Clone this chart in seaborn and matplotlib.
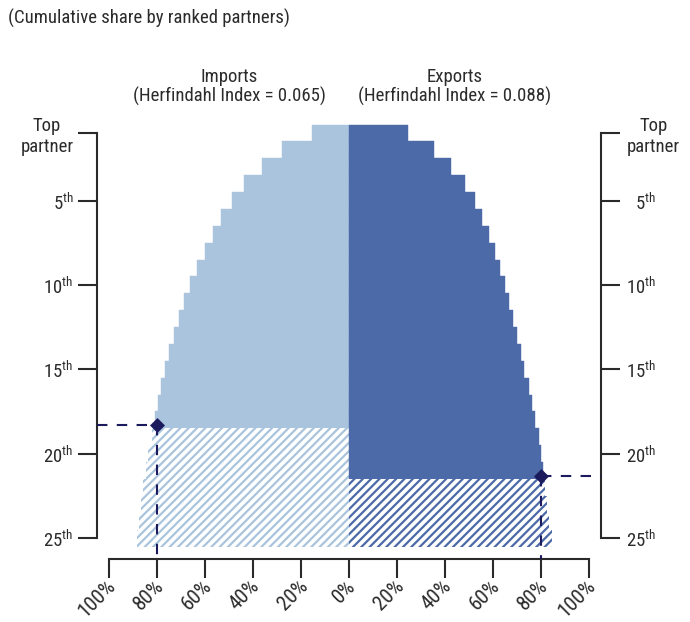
import numpy as np
import pandas as pd
import matplotlib
matplotlib.use("Agg")
import matplotlib.pyplot as plt
import matplotlib.transforms as mtransforms
import seaborn as sns

# ---- data ----
ranks = list(range(1, 26))
imports_share = [15.5, 27.9, 36.3, 43.8, 48.8, 53.3, 56.8, 60.1, 63.2, 66.3,
                 68.9, 70.8, 72.9, 74.9, 76.8, 78.5, 79.7, 80.7, 82.2, 83.6,
                 84.7, 85.7, 86.8, 87.5, 88.2]
exports_share = [24.6, 35.4, 42.5, 48.3, 52.6, 55.4, 58.3, 60.8, 62.9, 65.0,
                 66.8, 68.5, 69.9, 71.7, 73.1, 74.9, 76.4, 77.6, 79.0, 80.0,
                 80.7, 81.7, 82.6, 83.5, 84.5]
imports_last_solid = 18
exports_last_solid = 21
imports_marker = (80, 18.3)
exports_marker = (80, 21.3)
xticks = [-100, -80, -60, -40, -20, 0, 20, 40, 60, 80, 100]
xticklabels = ["100%", "80%", "60%", "40%", "20%", "0%", "20%", "40%", "60%", "80%", "100%"]
yticks = [1, 5, 10, 15, 20, 25]
yticklabels = ["Top\npartner"] + [f"{v}$^{{\\mathregular{{th}}}}$" for v in yticks[1:]]
title_text = "(Cumulative share by ranked partners)"
imports_title = "Imports\n(Herfindahl Index = 0.065)"
exports_title = "Exports\n(Herfindahl Index = 0.088)"

LIGHT = "#a9c4dc"
DARK = "#4c69a8"
NAVY = "#1b1a5c"
AXC = "#2a2a2a"
TXT = "#2b2b2b"
FS = 13.5

sns.set_theme(style="white")
plt.rcParams["font.family"] = ["Roboto Condensed", "DejaVu Sans"]
plt.rcParams["hatch.linewidth"] = 1.6
plt.rcParams["mathtext.fontset"] = "custom"
plt.rcParams["mathtext.rm"] = "Roboto Condensed"

df = pd.DataFrame({"rank": ranks, "imports": imports_share, "exports": exports_share})
df["neg_imports"] = -df["imports"]

fig = plt.figure(figsize=(6.9, 6.22), dpi=100)
ax = fig.add_axes([97 / 690, (622 - 559) / 622, 504 / 690, (559 - 120) / 622])

def bars(sub, col, color, hatched):
    n0 = len(ax.patches)
    sns.barplot(data=sub, x=col, y="rank", orient="h", native_scale=True,
                width=1, color="white" if hatched else color, saturation=1,
                linewidth=0, ax=ax)
    for p in ax.patches[n0:]:
        if hatched:
            p.set_facecolor("white")
            p.set_hatch("////")
            p.set_edgecolor(color)
            p.set_linewidth(0)
        else:
            p.set_edgecolor(color)
            p.set_linewidth(0.3)

bars(df[df["rank"] <= imports_last_solid], "neg_imports", LIGHT, False)
bars(df[df["rank"] > imports_last_solid], "neg_imports", LIGHT, True)
bars(df[df["rank"] <= exports_last_solid], "exports", DARK, False)
bars(df[df["rank"] > exports_last_solid], "exports", DARK, True)

ax.set_xlim(-105, 105)
ax.set_ylim(26.24, 0.23)

# dashed guides and markers
ybot = 26.24
dash = (0, (5, 4.5))
ax.plot([-105, -imports_marker[0]], [imports_marker[1]] * 2, ls=dash, color=NAVY, lw=1.5, clip_on=False, zorder=5)
ax.plot([-imports_marker[0]] * 2, [imports_marker[1], ybot], ls=dash, color=NAVY, lw=1.5, clip_on=False, zorder=5)
ax.plot([exports_marker[0], 105], [exports_marker[1]] * 2, ls=dash, color=NAVY, lw=1.5, clip_on=False, zorder=5)
ax.plot([exports_marker[0]] * 2, [exports_marker[1], ybot], ls=dash, color=NAVY, lw=1.5, clip_on=False, zorder=5)
sns.scatterplot(x=[-imports_marker[0], exports_marker[0]], y=[imports_marker[1], exports_marker[1]],
                marker="D", s=58, color=NAVY, edgecolor=NAVY, linewidth=0, zorder=6, ax=ax)

# axes styling
ax.spines["top"].set_visible(False)
for s in ["left", "right", "bottom"]:
    ax.spines[s].set_visible(True)
    ax.spines[s].set_color(AXC)
    ax.spines[s].set_linewidth(1.5)
ax.spines["left"].set_bounds(1, 25)
ax.spines["right"].set_bounds(1, 25)
ax.spines["bottom"].set_bounds(-100, 100)

ax.set_xticks(xticks)
ax.set_xticklabels(xticklabels, rotation=45, ha="right", rotation_mode="anchor")
ax.set_yticks(yticks)
ax.set_yticklabels(yticklabels)
ax.tick_params(axis="x", direction="out", length=14, width=1.5, color=AXC, labelsize=15, pad=0,
               bottom=True, labelcolor=TXT)
ax.tick_params(axis="y", direction="out", length=14, width=1.5, color=AXC, labelsize=FS, pad=3,
               left=True, right=True, labelleft=True, labelright=True, labelcolor=TXT)
# nudge x labels so their ends sit just at the ticks
xoff = mtransforms.ScaledTranslation(-3 / 100, 2 / 100, fig.dpi_scale_trans)
for t in ax.xaxis.get_major_ticks():
    t.label1.set_transform(t.label1.get_transform() + xoff)
for i, t in enumerate(ax.yaxis.get_major_ticks()):
    t.label1.set_multialignment("center")
    t.label2.set_multialignment("center")
    t.label2.set_ha("center" if i == 0 else "right")
# right-side labels end near a common right edge
offset = mtransforms.ScaledTranslation(31 / 100, 0, fig.dpi_scale_trans)
offset_top = mtransforms.ScaledTranslation(2 / 100, 0, fig.dpi_scale_trans)
for i, t in enumerate(ax.yaxis.get_major_ticks()):
    t.label2.set_transform(t.label2.get_transform() + (offset - offset_top if i == 0 else offset))
ax.set_xlabel("")
ax.set_ylabel("")
ax.grid(False)

fig.text(8 / 690, 1 - 18 / 622, title_text, ha="left", va="center", fontsize=FS, color=TXT)
fig.text(229 / 690, 1 - 87 / 622, imports_title, ha="center", va="center", fontsize=FS,
         color=TXT, linespacing=1.1)
fig.text(455 / 690, 1 - 87 / 622, exports_title, ha="center", va="center", fontsize=FS,
         color=TXT, linespacing=1.1)

fig.savefig("out.png", dpi=100)
